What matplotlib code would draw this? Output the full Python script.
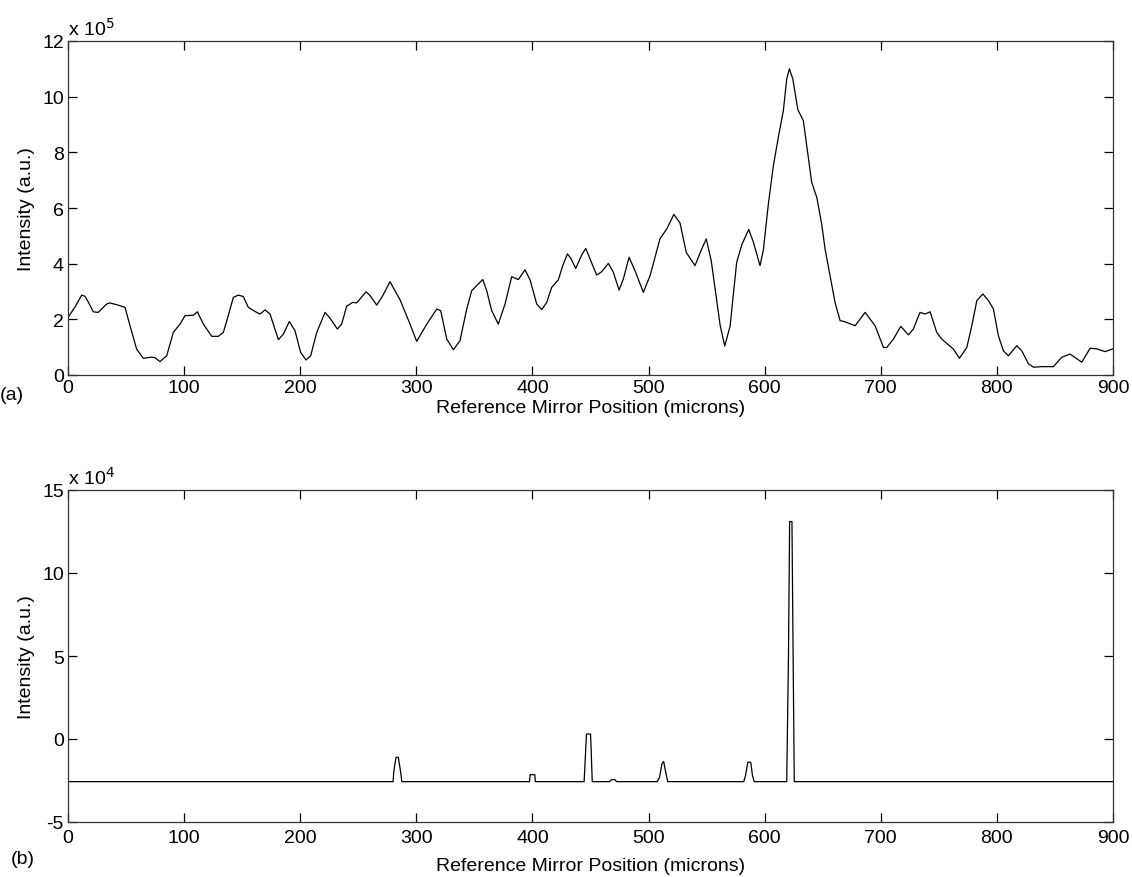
import numpy as np
import matplotlib
matplotlib.use("Agg")
import matplotlib.pyplot as plt
from matplotlib.ticker import FuncFormatter, FixedLocator

plt.rcParams['font.family'] = ['Liberation Sans', 'DejaVu Sans']

# ---- Panel (a): broadband intensity (units of 1e5) ----
pos_a = [0, 6, 11.8, 14.6, 17.5, 21.8, 26, 33.3, 36, 43.3, 49.1, 53.4, 59.1, 64.9, 72, 75, 79.2, 85,
         90.7, 96.5, 100.8, 108, 111.4, 116.6, 123.8, 129.5, 133.8, 138, 142.4, 146.7, 151, 155.3,
         162.5, 165.4, 169.7, 174, 181.2, 185.5, 190.6, 195.5, 200.4, 205, 209, 214.2, 221.4, 225.7,
         232, 235.7, 240, 245.2, 248.6, 256.7, 260.2, 265.9, 271.1, 277.3, 281.6, 286, 293.1, 300.3,
         309, 317.6, 321, 326.2, 331.9, 337.6, 343.4, 347.7, 352, 357.2, 360.6, 364.9, 370.6, 376.4,
         382.1, 387.9, 393.6, 398, 403.7, 408, 412.3, 416.6, 422.3, 426.1, 430.1, 433, 437.3, 442.4,
         445.9, 449.6, 455.3, 459.6, 465.4, 469.7, 474.6, 478.3, 483.2, 488.3, 495.5, 501.3, 509.9,
         515.7, 521.8, 527.1, 532.5, 540, 545.5, 549.7, 554, 558, 561.6, 565.6, 570.2, 575.9, 580.5,
         586.3, 590.3, 596, 598.9, 603.2, 607.5, 611.8, 616.1, 619, 621.3, 624.2, 628.6, 633.3, 637.6,
         640.5, 644.9, 649.2, 652, 656.3, 660.6, 665, 667.8, 677.9, 686.5, 695.1, 702.3, 705.2, 710.9,
         717.2, 723.8, 728, 733.8, 738.1, 742.5, 748.2, 752.5, 762.6, 767.7, 774.1, 778.4, 782.7,
         787.9, 792.8, 797, 801.3, 805.6, 809.9, 817.1, 821.4, 827.2, 831.5, 838.7, 848.7, 855.9,
         863.1, 873.1, 880.3, 886, 893.2, 900]
int_a_e5 = [2.07, 2.44, 2.87, 2.83, 2.62, 2.27, 2.25, 2.55, 2.59, 2.51, 2.43, 1.77, 0.93, 0.6, 0.64, 0.62,
            0.48, 0.69, 1.53, 1.83, 2.13, 2.15, 2.27, 1.83, 1.39, 1.39, 1.53, 2.13, 2.79, 2.87, 2.82, 2.43,
            2.25, 2.19, 2.34, 2.19, 1.27, 1.47, 1.92, 1.59, 0.81, 0.54, 0.69, 1.53, 2.25, 2.04, 1.65, 1.83,
            2.47, 2.61, 2.59, 2.99, 2.85, 2.51, 2.85, 3.35, 3.03, 2.7, 1.98, 1.21, 1.83, 2.37, 2.31, 1.29,
            0.91, 1.23, 2.37, 3.03, 3.21, 3.43, 3.03, 2.31, 1.83, 2.55, 3.53, 3.43, 3.78, 3.41, 2.55, 2.35,
            2.61, 3.15, 3.42, 3.93, 4.35, 4.2, 3.83, 4.31, 4.55, 4.17, 3.59, 3.71, 4.01, 3.69, 3.05, 3.45,
            4.23, 3.75, 2.97, 3.57, 4.9, 5.25, 5.77, 5.46, 4.4, 3.93, 4.5, 4.89, 4.1, 2.9, 1.8, 1.04, 1.75,
            4.05, 4.7, 5.23, 4.77, 3.93, 4.5, 6.15, 7.52, 8.55, 9.5, 10.64, 11.0, 10.64, 9.53, 9.14, 7.8,
            6.92, 6.38, 5.4, 4.53, 3.57, 2.61, 1.95, 1.93, 1.77, 2.25, 1.77, 0.99, 0.99, 1.29, 1.75, 1.44,
            1.65, 2.25, 2.19, 2.27, 1.53, 1.29, 0.93, 0.6, 0.99, 1.77, 2.67, 2.91, 2.67, 2.37, 1.41, 0.87,
            0.69, 1.05, 0.87, 0.4, 0.28, 0.3, 0.3, 0.64, 0.75, 0.46, 0.96, 0.94, 0.84, 0.94]

# ---- Panel (b): processed intensity (units of 1e4) ----
pos_b = [0,
         280, 280.5, 282.5, 284.5, 286.5, 287.5,
         397.5, 398, 402, 402.5,
         444.5, 445, 446.5, 450, 450.5, 451.5,
         466.5, 468, 471, 472.5,
         507.5, 509.5, 511.5, 513, 514.5, 516.5,
         582, 583.5, 585.5, 588, 589.5, 591,
         619, 619.5, 620.5, 621.5, 623.5, 624.5, 625.5,
         900]
int_b_e4 = [-2.57,
            -2.57, -2.0, -1.1, -1.1, -2.0, -2.57,
            -2.57, -2.15, -2.15, -2.57,
            -2.57, -1.9, 0.3, 0.3, -0.5, -2.57,
            -2.57, -2.45, -2.45, -2.57,
            -2.57, -2.3, -1.5, -1.35, -1.9, -2.57,
            -2.57, -2.2, -1.4, -1.4, -2.2, -2.57,
            -2.57, 0.0, 5.0, 13.1, 13.1, 5.0, -2.57,
            -2.57]

x_ticks = [0, 100, 200, 300, 400, 500, 600, 700, 800, 900]
y_ticks_a = [0, 2, 4, 6, 8, 10, 12]
y_ticks_b = [-5, 0, 5, 10, 15]

xlabel = "Reference Mirror Position (microns)"
ylabel = "Intensity (a.u.)"

W, H = 1132, 878
fig = plt.figure(figsize=(W / 100, H / 100), dpi=100)

def px_axes(left, top, right, bottom):
    return fig.add_axes([left / W, 1 - bottom / H, (right - left) / W, (bottom - top) / H])

ax_a = px_axes(68, 42, 1113, 376)
ax_b = px_axes(68, 491, 1113, 823)

fs = 14
axis_col = '#333333'

def style(ax, scale, yticks, ylim, exp, xpad, lpad):
    ax.set_xlim(0, 900)
    ax.set_ylim(ylim[0] * scale, ylim[1] * scale)
    ax.xaxis.set_major_locator(FixedLocator(x_ticks))
    ax.yaxis.set_major_locator(FixedLocator([v * scale for v in yticks]))
    ax.yaxis.set_major_formatter(FuncFormatter(lambda v, p: "%g" % round(v / scale, 6)))
    ax.tick_params(direction='in', length=6.5, width=0.9, top=True, right=True,
                   labelsize=fs, colors='black')
    ax.tick_params(axis='y', pad=3)
    ax.tick_params(axis='x', pad=xpad)
    for s in ax.spines.values():
        s.set_color(axis_col)
        s.set_linewidth(0.9)
    ax.set_xlabel(xlabel, fontsize=fs, labelpad=lpad)
    ax.set_ylabel(ylabel, fontsize=fs, labelpad=5)
    ax.text(0.0, 1.008, r'x 10$^{%d}$' % exp, transform=ax.transAxes,
            fontsize=fs, ha='left', va='bottom')

ax_a.plot(pos_a, np.array(int_a_e5) * 1e5, color='black', lw=0.9)
style(ax_a, 1e5, y_ticks_a, (0, 12), 5, 3, 2)

ax_b.plot(pos_b, np.array(int_b_e4) * 1e4, color='black', lw=0.9)
style(ax_b, 1e4, y_ticks_b, (-5, 15), 4, 5, 8)

fig.text(0 / W, 1 - 396 / H, "(a)", fontsize=fs, ha='left', va='center')
fig.text(11 / W, 1 - 860 / H, "(b)", fontsize=fs, ha='left', va='center')

fig.savefig("out.png", dpi=100, facecolor='white')
